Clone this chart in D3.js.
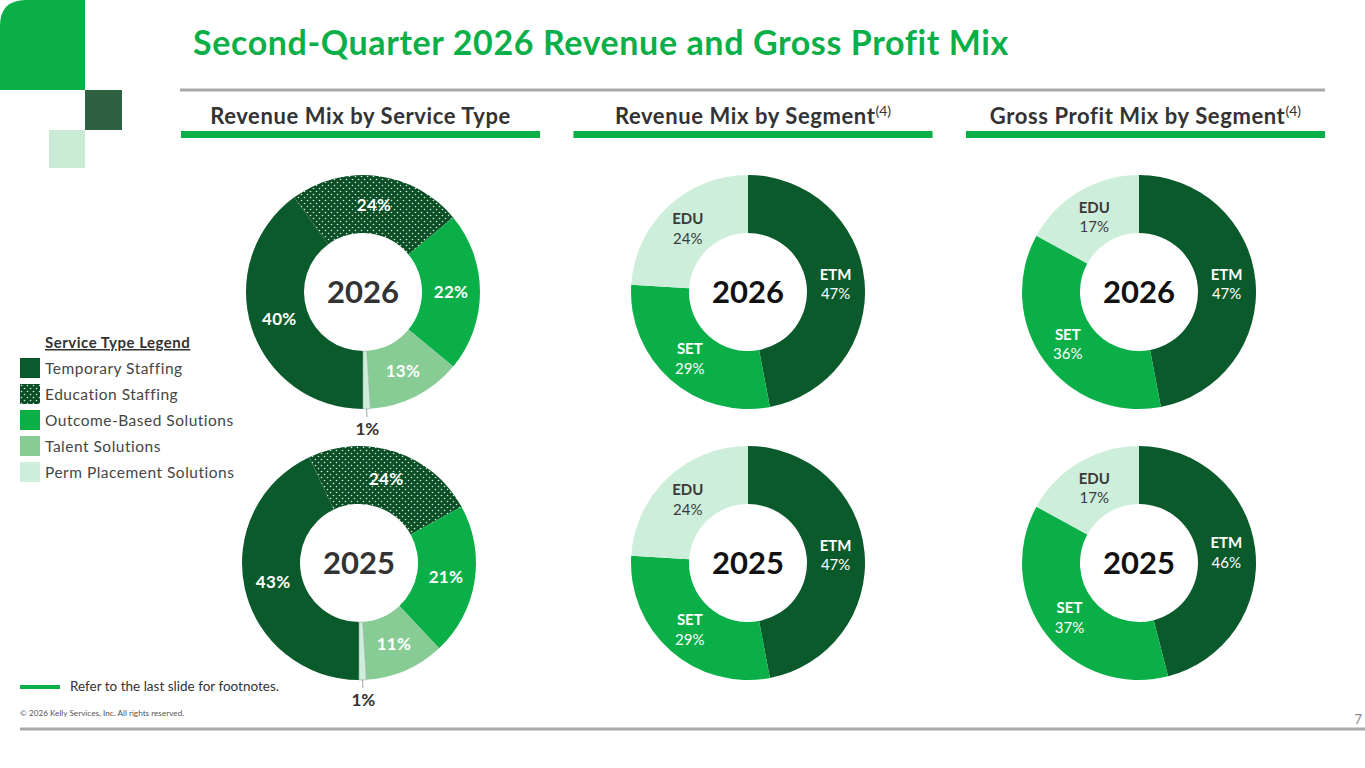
<!DOCTYPE html>
<html>
<head>
<meta charset="utf-8">
<script src="https://cdn.jsdelivr.net/npm/d3@7"></script>
<style>
  html, body { margin: 0; padding: 0; background: #fff; }
  svg { display: block; font-family: Lato, "Open Sans", sans-serif; }
</style>
</head>
<body>
<div id="chart"></div>
<script>
// --- data ---
var serviceTypes = ["Temporary Staffing", "Education Staffing", "Outcome-Based Solutions", "Talent Solutions", "Perm Placement Solutions"];
var service2026 = [40, 24, 22, 13, 1];
var service2025 = [43, 24, 21, 11, 1];

var segments = ["ETM", "SET", "EDU"];
var revenueSeg2026 = [47, 29, 24];
var revenueSeg2025 = [47, 29, 24];
var gpSeg2026 = [47, 36, 17];
var gpSeg2025 = [46, 37, 17];

var years = ["2026", "2025"];
var panelTitles = ["Revenue Mix by Service Type", "Revenue Mix by Segment", "Gross Profit Mix by Segment"];

// colours
var darkGreen = "#0b5a2b";
var brightGreen = "#0aaf48";
var midGreen = "#88cc95";
var paleGreen = "#cdeedb";
var textDark = "#333333";

var W = 1365, H = 768;
var svg = d3.select("#chart").append("svg")
    .attr("width", W)
    .attr("height", H);

// dotted fill for education staffing
var defs = svg.append("defs");
var pat = defs.append("pattern")
    .attr("id", "dots")
    .attr("patternUnits", "userSpaceOnUse")
    .attr("width", 6)
    .attr("height", 6);
pat.append("rect").attr("width", 6).attr("height", 6).attr("fill", "#0c4f27");
pat.append("circle").attr("cx", 1.5).attr("cy", 1.5).attr("r", 0.8).attr("fill", "#d6ecdc");
pat.append("circle").attr("cx", 4.5).attr("cy", 4.5).attr("r", 0.8).attr("fill", "#d6ecdc");

var serviceColor = d3.scaleOrdinal()
    .domain(serviceTypes)
    .range([darkGreen, "url(#dots)", brightGreen, midGreen, paleGreen]);
var segmentColor = d3.scaleOrdinal()
    .domain(segments)
    .range([darkGreen, brightGreen, paleGreen]);
var segmentText = d3.scaleOrdinal()
    .domain(segments)
    .range(["#ffffff", "#ffffff", "#3a3a3a"]);

// --- corner decoration ---
svg.append("path")
    .attr("d", "M0,26 Q0,0 26,0 L85,0 L85,90 L0,90 Z")
    .attr("fill", brightGreen);
svg.append("rect").attr("x", 85).attr("y", 90).attr("width", 37).attr("height", 40).attr("fill", "#2d6141");
svg.append("rect").attr("x", 49).attr("y", 130).attr("width", 36).attr("height", 38).attr("fill", "#c9ebd6");

// --- title ---
svg.append("text")
    .attr("x", 193)
    .attr("y", 55)
    .attr("fill", brightGreen)
    .attr("font-size", 34)
    .attr("font-weight", "bold")
    .attr("letter-spacing", 0.6)
    .text("Second-Quarter 2026 Revenue and Gross Profit Mix");

svg.append("line")
    .attr("x1", 180).attr("x2", 1325)
    .attr("y1", 90).attr("y2", 90)
    .attr("stroke", "#a9a9a9")
    .attr("stroke-width", 3);

// --- panel headers ---
var panelX = d3.scaleBand()
    .domain(panelTitles)
    .range([181, 1325])
    .paddingInner(0.085);

panelTitles.forEach(function (t, i) {
    var x0 = panelX(t), bw = panelX.bandwidth();
    var label = svg.append("text")
        .attr("x", x0 + bw / 2)
        .attr("y", 124)
        .attr("text-anchor", "middle")
        .attr("fill", textDark)
        .attr("font-size", 22)
        .attr("font-weight", "bold")
        .attr("letter-spacing", 0.6)
        .text(t);
    if (i > 0) {
        label.append("tspan")
            .attr("font-size", 14)
            .attr("font-weight", "normal")
            .attr("letter-spacing", 0)
            .attr("dy", -8)
            .text("(4)");
    }
    svg.append("rect")
        .attr("x", x0)
        .attr("y", 131)
        .attr("width", bw)
        .attr("height", 7)
        .attr("fill", brightGreen);
});

// --- donuts ---
var outerR = 117, innerR = 59;
var rowY = d3.scalePoint().domain(years).range([292, 563]);
var colX = [363, 748, 1139];

var arc = d3.arc().innerRadius(innerR).outerRadius(outerR);
var labelArc = d3.arc().innerRadius(88).outerRadius(88);

function yearLabel(g, year, color) {
    g.append("text")
        .attr("text-anchor", "middle")
        .attr("dy", "0.36em")
        .attr("fill", color)
        .attr("font-size", 31)
        .attr("font-weight", "bold")
        .text(year);
}

function serviceDonut(values, year) {
    var g = svg.append("g")
        .attr("transform", "translate(" + (colX[0] - (year === "2025" ? 4 : 0)) + "," + rowY(year) + ")");
    var pie = d3.pie().sort(null).startAngle(Math.PI).endAngle(3 * Math.PI);
    var data = pie(values);
    data.forEach(function (d, i) { d.name = serviceTypes[i]; });

    g.selectAll("path")
        .data(data)
        .enter()
        .append("path")
        .attr("d", arc)
        .attr("fill", function (d) { return serviceColor(d.name); })
        .attr("stroke", function (d, i) { return i === data.length - 1 ? "#9aa59f" : "none"; })
        .attr("stroke-width", 0.6);

    g.selectAll("text.pct")
        .data(data.filter(function (d) { return d.value > 2; }))
        .enter()
        .append("text")
        .attr("class", "pct")
        .attr("transform", function (d) { return "translate(" + labelArc.centroid(d) + ")"; })
        .attr("text-anchor", "middle")
        .attr("dy", "0.36em")
        .attr("fill", "#ffffff")
        .attr("font-size", 17)
        .attr("font-weight", "bold")
        .attr("letter-spacing", 0.3)
        .text(function (d) { return d.value + "%"; });

    // small slice gets its label outside with a leader
    data.filter(function (d) { return d.value <= 2; }).forEach(function (d) {
        var a = (d.startAngle + d.endAngle) / 2;
        var sx = Math.sin(a), sy = -Math.cos(a);
        g.append("line")
            .attr("x1", sx * outerR).attr("y1", sy * outerR)
            .attr("x2", sx * (outerR + 8)).attr("y2", sy * (outerR + 8))
            .attr("stroke", "#9aa59f")
            .attr("stroke-width", 1);
        g.append("text")
            .attr("x", sx * (outerR + 20))
            .attr("y", sy * (outerR + 20))
            .attr("text-anchor", "middle")
            .attr("dy", "0.36em")
            .attr("fill", textDark)
            .attr("font-size", 17)
            .attr("font-weight", "bold")
            .text(d.value + "%");
    });

    yearLabel(g, year, textDark);
}

function segmentDonut(values, year, col) {
    var g = svg.append("g")
        .attr("transform", "translate(" + colX[col] + "," + rowY(year) + ")");
    var pie = d3.pie().sort(null);
    var data = pie(values);
    data.forEach(function (d, i) { d.name = segments[i]; });

    g.selectAll("path")
        .data(data)
        .enter()
        .append("path")
        .attr("d", arc)
        .attr("fill", function (d) { return segmentColor(d.name); });

    var lab = g.selectAll("text.seg")
        .data(data)
        .enter()
        .append("text")
        .attr("class", "seg")
        .attr("transform", function (d) { return "translate(" + labelArc.centroid(d) + ")"; })
        .attr("text-anchor", "middle")
        .attr("fill", function (d) { return segmentText(d.name); })
        .attr("font-size", 15);
    lab.append("tspan")
        .attr("x", 0)
        .attr("dy", "-0.25em")
        .attr("font-weight", "bold")
        .text(function (d) { return d.name; });
    lab.append("tspan")
        .attr("x", 0)
        .attr("dy", "1.3em")
        .text(function (d) { return d.value + "%"; });

    yearLabel(g, year, "#111111");
}

serviceDonut(service2026, "2026");
serviceDonut(service2025, "2025");
segmentDonut(revenueSeg2026, "2026", 1);
segmentDonut(revenueSeg2025, "2025", 1);
segmentDonut(gpSeg2026, "2026", 2);
segmentDonut(gpSeg2025, "2025", 2);

// --- legend ---
var legend = svg.append("g").attr("transform", "translate(20,0)");
legend.append("text")
    .attr("x", 25)
    .attr("y", 348)
    .attr("fill", textDark)
    .attr("font-size", 15)
    .attr("font-weight", "bold")
    .attr("letter-spacing", 0.5)
    .attr("text-decoration", "underline")
    .text("Service Type Legend");

var legendY = d3.scalePoint().domain(serviceTypes).range([358, 462]);
legend.selectAll("rect.sw")
    .data(serviceTypes)
    .enter()
    .append("rect")
    .attr("class", "sw")
    .attr("x", 0)
    .attr("y", function (d) { return legendY(d); })
    .attr("width", 20)
    .attr("height", 20)
    .attr("fill", function (d) { return serviceColor(d); });
legend.selectAll("text.item")
    .data(serviceTypes)
    .enter()
    .append("text")
    .attr("class", "item")
    .attr("x", 25)
    .attr("y", function (d) { return legendY(d) + 15.5; })
    .attr("fill", "#454545")
    .attr("font-size", 15.5)
    .attr("letter-spacing", 0.5)
    .text(function (d) { return d; });

// --- footer ---
svg.append("rect").attr("x", 20).attr("y", 685).attr("width", 40).attr("height", 4).attr("fill", brightGreen);
svg.append("text")
    .attr("x", 70).attr("y", 691)
    .attr("fill", textDark)
    .attr("font-size", 13.5)
    .text("Refer to the last slide for footnotes.");
svg.append("text")
    .attr("x", 20).attr("y", 716)
    .attr("fill", "#555")
    .attr("font-size", 8.2)
    .text("© 2026 Kelly Services, Inc. All rights reserved.");
svg.append("text")
    .attr("x", 1362).attr("y", 724)
    .attr("text-anchor", "end")
    .attr("fill", "#888")
    .attr("font-size", 13)
    .text("7");
svg.append("line")
    .attr("x1", 20).attr("x2", W)
    .attr("y1", 729).attr("y2", 729)
    .attr("stroke", "#a9a9a9")
    .attr("stroke-width", 3);
</script>
</body>
</html>
